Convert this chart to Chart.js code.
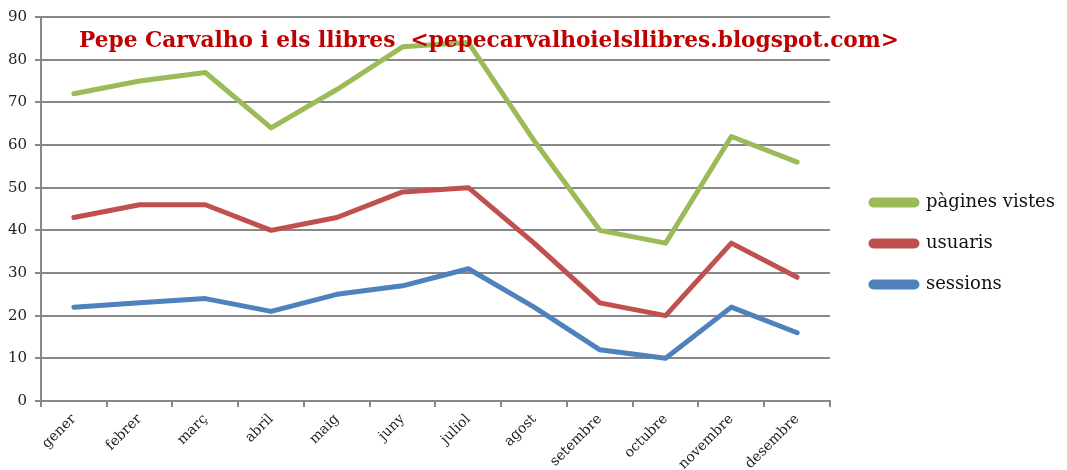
<!DOCTYPE html>
<html>
<head>
<meta charset="utf-8">
<script src="https://cdn.jsdelivr.net/npm/chart.js@4"></script>
<style>
  html, body { margin: 0; padding: 0; background: #fff; }
  #wrap { position: relative; width: 1067px; height: 470px; }
  #title {
    position: absolute; left: 79px; top: 27px; white-space: pre;
    font-family: "DejaVu Serif", serif; font-weight: bold; font-size: 21.7px;
    color: #C00000;
  }
</style>
</head>
<body>
<div id="wrap">
  <canvas id="visitsChart"></canvas>
  <div id="title">Pepe Carvalho i els llibres  &lt;pepecarvalhoielsllibres.blogspot.com&gt;</div>
</div>
<script>
// months
var months = ["gener", "febrer", "març", "abril", "maig", "juny", "juliol", "agost", "setembre", "octubre", "novembre", "desembre"];

// series
var pagines = [72, 75, 77, 64, 73, 83, 84, 61, 40, 37, 62, 56];
var usuaris = [43, 46, 46, 40, 43, 49, 50, 37, 23, 20, 37, 29];
var sessions = [22, 23, 24, 21, 25, 27, 31, 22, 12, 10, 22, 16];

// y axis
var yMin = 0;
var yMax = 90;
var yStep = 10;

var serif = "'DejaVu Serif', serif";

// legend sits further right than chart.js puts it, so widen it and push it over
var legendShift = {
    id: "legendShift",
    beforeLayout: function (chart) {
        var lg = chart.legend;
        if (lg && !lg._widened) {
            var fit = lg.fit;
            lg.fit = function () {
                fit.call(this);
                this.width += 20;
            };
            lg._widened = true;
        }
    },
    afterLayout: function (chart) {
        if (chart.legend) chart.legend.left += 18;
    }
};

new Chart("visitsChart", {
    type: "line",
    data: {
      labels: months,
      datasets: [{
        label: "pàgines vistes",
        borderColor: "#9BBB59",
        backgroundColor: "#9BBB59",
        data: pagines
      }, {
        label: "usuaris",
        borderColor: "#C0504D",
        backgroundColor: "#C0504D",
        data: usuaris
      }, {
        label: "sessions",
        borderColor: "#4F81BD",
        backgroundColor: "#4F81BD",
        data: sessions
      }]
    },
    plugins: [legendShift],
    options: {
        responsive: true,
        maintainAspectRatio: false,
        animation: false,
        elements: {
            line: { borderWidth: 5, tension: 0, fill: false, borderJoinStyle: "round", borderCapStyle: "round" },
            point: { radius: 0 }
        },
        layout: {
            padding: { top: 17, right: 0, left: 0, bottom: 0 }
        },
        scales: {
            x: {
                offset: true,
                grid: {
                    offset: true,
                    drawOnChartArea: false,
                    color: "#888",
                    lineWidth: 2,
                    tickLength: 6
                },
                border: { color: "#888", width: 2 },
                ticks: {
                    minRotation: 45,
                    maxRotation: 45,
                    color: "#222",
                    padding: 4,
                    font: { family: serif, size: 14 }
                },
                afterFit: function (s) { s.height = 69; }
            },
            y: {
                min: yMin,
                max: yMax,
                grid: {
                    color: "#888",
                    lineWidth: 2,
                    tickLength: 6
                },
                border: { color: "#888", width: 2 },
                ticks: {
                    stepSize: yStep,
                    color: "#222",
                    padding: 8,
                    font: { family: serif, size: 15 }
                },
                afterFit: function (s) { s.width = 41; }
            }
        },
        plugins: {
            tooltip: { enabled: false },
            legend: {
                position: "right",
                labels: {
                    boxWidth: 46,
                    boxHeight: 5,
                    useBorderRadius: true,
                    borderRadius: 2.5,
                    padding: 23,
                    color: "#111",
                    font: { family: serif, size: 18 }
                }
            }
        }
    }
});
</script>
</body>
</html>
